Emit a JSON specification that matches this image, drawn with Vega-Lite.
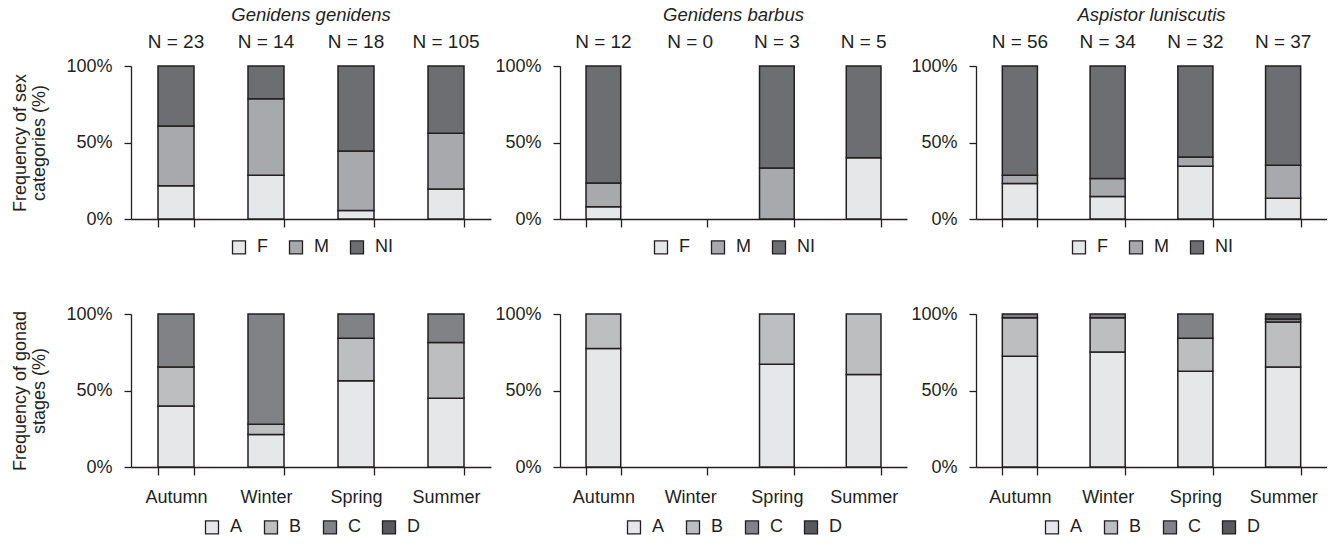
{
  "$schema": "https://vega.github.io/schema/vega-lite/v6.json",
  "padding": {"top": 5, "left": 11, "right": 0, "bottom": 0},
  "background": "white",
  "datasets": {
    "sex": [
      {"sp": "Genidens genidens", "season": "Autumn", "cat": "F", "pct": 21.7},
      {"sp": "Genidens genidens", "season": "Autumn", "cat": "M", "pct": 39.1},
      {"sp": "Genidens genidens", "season": "Autumn", "cat": "NI", "pct": 39.1},
      {"sp": "Genidens genidens", "season": "Winter", "cat": "F", "pct": 28.6},
      {"sp": "Genidens genidens", "season": "Winter", "cat": "M", "pct": 50.0},
      {"sp": "Genidens genidens", "season": "Winter", "cat": "NI", "pct": 21.4},
      {"sp": "Genidens genidens", "season": "Spring", "cat": "F", "pct": 5.6},
      {"sp": "Genidens genidens", "season": "Spring", "cat": "M", "pct": 38.9},
      {"sp": "Genidens genidens", "season": "Spring", "cat": "NI", "pct": 55.6},
      {"sp": "Genidens genidens", "season": "Summer", "cat": "F", "pct": 19.6},
      {"sp": "Genidens genidens", "season": "Summer", "cat": "M", "pct": 36.5},
      {"sp": "Genidens genidens", "season": "Summer", "cat": "NI", "pct": 43.9},
      {"sp": "Genidens barbus", "season": "Autumn", "cat": "F", "pct": 8.0},
      {"sp": "Genidens barbus", "season": "Autumn", "cat": "M", "pct": 15.5},
      {"sp": "Genidens barbus", "season": "Autumn", "cat": "NI", "pct": 76.5},
      {"sp": "Genidens barbus", "season": "Spring", "cat": "M", "pct": 33.3},
      {"sp": "Genidens barbus", "season": "Spring", "cat": "NI", "pct": 66.7},
      {"sp": "Genidens barbus", "season": "Summer", "cat": "F", "pct": 40.0},
      {"sp": "Genidens barbus", "season": "Summer", "cat": "NI", "pct": 60.0},
      {"sp": "Aspistor luniscutis", "season": "Autumn", "cat": "F", "pct": 23.2},
      {"sp": "Aspistor luniscutis", "season": "Autumn", "cat": "M", "pct": 5.4},
      {"sp": "Aspistor luniscutis", "season": "Autumn", "cat": "NI", "pct": 71.4},
      {"sp": "Aspistor luniscutis", "season": "Winter", "cat": "F", "pct": 14.7},
      {"sp": "Aspistor luniscutis", "season": "Winter", "cat": "M", "pct": 11.8},
      {"sp": "Aspistor luniscutis", "season": "Winter", "cat": "NI", "pct": 73.5},
      {"sp": "Aspistor luniscutis", "season": "Spring", "cat": "F", "pct": 34.4},
      {"sp": "Aspistor luniscutis", "season": "Spring", "cat": "M", "pct": 6.2},
      {"sp": "Aspistor luniscutis", "season": "Spring", "cat": "NI", "pct": 59.4},
      {"sp": "Aspistor luniscutis", "season": "Summer", "cat": "F", "pct": 13.5},
      {"sp": "Aspistor luniscutis", "season": "Summer", "cat": "M", "pct": 21.6},
      {"sp": "Aspistor luniscutis", "season": "Summer", "cat": "NI", "pct": 64.9}
    ],
    "gonad": [
      {"sp": "Genidens genidens", "season": "Autumn", "cat": "A", "pct": 39.8},
      {"sp": "Genidens genidens", "season": "Autumn", "cat": "B", "pct": 25.6},
      {"sp": "Genidens genidens", "season": "Autumn", "cat": "C", "pct": 34.6},
      {"sp": "Genidens genidens", "season": "Winter", "cat": "A", "pct": 21.3},
      {"sp": "Genidens genidens", "season": "Winter", "cat": "B", "pct": 6.7},
      {"sp": "Genidens genidens", "season": "Winter", "cat": "C", "pct": 72.0},
      {"sp": "Genidens genidens", "season": "Spring", "cat": "A", "pct": 56.3},
      {"sp": "Genidens genidens", "season": "Spring", "cat": "B", "pct": 27.8},
      {"sp": "Genidens genidens", "season": "Spring", "cat": "C", "pct": 15.9},
      {"sp": "Genidens genidens", "season": "Summer", "cat": "A", "pct": 45.0},
      {"sp": "Genidens genidens", "season": "Summer", "cat": "B", "pct": 36.3},
      {"sp": "Genidens genidens", "season": "Summer", "cat": "C", "pct": 18.7},
      {"sp": "Genidens barbus", "season": "Autumn", "cat": "A", "pct": 77.4},
      {"sp": "Genidens barbus", "season": "Autumn", "cat": "B", "pct": 22.6},
      {"sp": "Genidens barbus", "season": "Spring", "cat": "A", "pct": 67.2},
      {"sp": "Genidens barbus", "season": "Spring", "cat": "B", "pct": 32.8},
      {"sp": "Genidens barbus", "season": "Summer", "cat": "A", "pct": 60.4},
      {"sp": "Genidens barbus", "season": "Summer", "cat": "B", "pct": 39.6},
      {"sp": "Aspistor luniscutis", "season": "Autumn", "cat": "A", "pct": 72.4},
      {"sp": "Aspistor luniscutis", "season": "Autumn", "cat": "B", "pct": 25.2},
      {"sp": "Aspistor luniscutis", "season": "Autumn", "cat": "C", "pct": 2.4},
      {"sp": "Aspistor luniscutis", "season": "Winter", "cat": "A", "pct": 75.2},
      {"sp": "Aspistor luniscutis", "season": "Winter", "cat": "B", "pct": 22.4},
      {"sp": "Aspistor luniscutis", "season": "Winter", "cat": "C", "pct": 2.4},
      {"sp": "Aspistor luniscutis", "season": "Spring", "cat": "A", "pct": 62.6},
      {"sp": "Aspistor luniscutis", "season": "Spring", "cat": "B", "pct": 21.5},
      {"sp": "Aspistor luniscutis", "season": "Spring", "cat": "C", "pct": 15.9},
      {"sp": "Aspistor luniscutis", "season": "Summer", "cat": "A", "pct": 65.4},
      {"sp": "Aspistor luniscutis", "season": "Summer", "cat": "B", "pct": 29.4},
      {"sp": "Aspistor luniscutis", "season": "Summer", "cat": "C", "pct": 1.9},
      {"sp": "Aspistor luniscutis", "season": "Summer", "cat": "D", "pct": 3.3}
    ],
    "n": [
      {"sp": "Genidens genidens", "season": "Autumn", "label": "N = 23", "y": 1},
      {"sp": "Genidens genidens", "season": "Winter", "label": "N = 14", "y": 1},
      {"sp": "Genidens genidens", "season": "Spring", "label": "N = 18", "y": 1},
      {"sp": "Genidens genidens", "season": "Summer", "label": "N = 105", "y": 1},
      {"sp": "Genidens barbus", "season": "Autumn", "label": "N = 12", "y": 1},
      {"sp": "Genidens barbus", "season": "Winter", "label": "N = 0", "y": 1},
      {"sp": "Genidens barbus", "season": "Spring", "label": "N = 3", "y": 1},
      {"sp": "Genidens barbus", "season": "Summer", "label": "N = 5", "y": 1},
      {"sp": "Aspistor luniscutis", "season": "Autumn", "label": "N = 56", "y": 1},
      {"sp": "Aspistor luniscutis", "season": "Winter", "label": "N = 34", "y": 1},
      {"sp": "Aspistor luniscutis", "season": "Spring", "label": "N = 32", "y": 1},
      {"sp": "Aspistor luniscutis", "season": "Summer", "label": "N = 37", "y": 1}
    ]
  },
  "vconcat": [
    {
      "hconcat": [
        {
          "width": 360, "height": 153,
          "title": {"text": "Genidens genidens"},
          "layer": [
            {
              "data": {"name": "sex"},
              "transform": [{"filter": "datum.sp == 'Genidens genidens'"}],
              "mark": {"type": "bar", "stroke": "#231f20", "strokeWidth": 1.5},
              "encoding": {
                "x": {"field": "season", "type": "nominal", "scale": {"domain": ["Autumn", "Winter", "Spring", "Summer"], "paddingInner": 0.6, "paddingOuter": 0.3}, "axis": {"labels": false, "title": null}},
                "y": {"field": "pct", "type": "quantitative", "stack": "normalize", "scale": {"domain": [0, 1]}, "axis": {"values": [0, 0.5, 1], "format": ".0%", "title": ["Frequency of sex", "categories (%)"]}},
                "color": {"field": "cat", "type": "nominal", "scale": {"domain": ["F", "M", "NI"], "range": ["#e6e7e8", "#a7a9ac", "#6d6e71"]}, "legend": {}},
                "order": {"field": "cat", "type": "ordinal", "sort": "ascending"}
              }
            },
            {
              "data": {"name": "n"},
              "transform": [{"filter": "datum.sp == 'Genidens genidens'"}],
              "mark": {"type": "text", "dy": -24, "fontSize": 19, "color": "#231f20"},
              "encoding": {
                "x": {"field": "season", "type": "nominal"},
                "y": {"field": "y", "type": "quantitative"},
                "text": {"field": "label"}
              }
            }
          ]
        },
        {
          "width": 347, "height": 153,
          "title": {"text": "Genidens barbus"},
          "layer": [
            {
              "data": {"name": "sex"},
              "transform": [{"filter": "datum.sp == 'Genidens barbus'"}],
              "mark": {"type": "bar", "stroke": "#231f20", "strokeWidth": 1.5},
              "encoding": {
                "x": {"field": "season", "type": "nominal", "scale": {"domain": ["Autumn", "Winter", "Spring", "Summer"], "paddingInner": 0.6, "paddingOuter": 0.3}, "axis": {"labels": false, "title": null}},
                "y": {"field": "pct", "type": "quantitative", "stack": "normalize", "scale": {"domain": [0, 1]}, "axis": {"values": [0, 0.5, 1], "format": ".0%", "title": null}},
                "color": {"field": "cat", "type": "nominal", "scale": {"domain": ["F", "M", "NI"], "range": ["#e6e7e8", "#a7a9ac", "#6d6e71"]}, "legend": {}},
                "order": {"field": "cat", "type": "ordinal", "sort": "ascending"}
              }
            },
            {
              "data": {"name": "n"},
              "transform": [{"filter": "datum.sp == 'Genidens barbus'"}],
              "mark": {"type": "text", "dy": -24, "fontSize": 19, "color": "#231f20"},
              "encoding": {
                "x": {"field": "season", "type": "nominal"},
                "y": {"field": "y", "type": "quantitative"},
                "text": {"field": "label"}
              }
            }
          ]
        },
        {
          "width": 351, "height": 153,
          "title": {"text": "Aspistor luniscutis"},
          "layer": [
            {
              "data": {"name": "sex"},
              "transform": [{"filter": "datum.sp == 'Aspistor luniscutis'"}],
              "mark": {"type": "bar", "stroke": "#231f20", "strokeWidth": 1.5},
              "encoding": {
                "x": {"field": "season", "type": "nominal", "scale": {"domain": ["Autumn", "Winter", "Spring", "Summer"], "paddingInner": 0.6, "paddingOuter": 0.3}, "axis": {"labels": false, "title": null}},
                "y": {"field": "pct", "type": "quantitative", "stack": "normalize", "scale": {"domain": [0, 1]}, "axis": {"values": [0, 0.5, 1], "format": ".0%", "title": null}},
                "color": {"field": "cat", "type": "nominal", "scale": {"domain": ["F", "M", "NI"], "range": ["#e6e7e8", "#a7a9ac", "#6d6e71"]}, "legend": {}},
                "order": {"field": "cat", "type": "ordinal", "sort": "ascending"}
              }
            },
            {
              "data": {"name": "n"},
              "transform": [{"filter": "datum.sp == 'Aspistor luniscutis'"}],
              "mark": {"type": "text", "dy": -24, "fontSize": 19, "color": "#231f20"},
              "encoding": {
                "x": {"field": "season", "type": "nominal"},
                "y": {"field": "y", "type": "quantitative"},
                "text": {"field": "label"}
              }
            }
          ]
        }
      ],
      "spacing": 3,
      "resolve": {"scale": {"color": "independent"}}
    },
    {
      "hconcat": [
        {
          "width": 360, "height": 153,
          "data": {"name": "gonad"},
          "transform": [{"filter": "datum.sp == 'Genidens genidens'"}],
          "mark": {"type": "bar", "stroke": "#231f20", "strokeWidth": 1.5},
          "encoding": {
            "x": {"field": "season", "type": "nominal", "scale": {"domain": ["Autumn", "Winter", "Spring", "Summer"], "paddingInner": 0.6, "paddingOuter": 0.3}, "axis": {"title": null}},
            "y": {"field": "pct", "type": "quantitative", "stack": "normalize", "scale": {"domain": [0, 1]}, "axis": {"values": [0, 0.5, 1], "format": ".0%", "title": ["Frequency of gonad", "stages (%)"]}},
            "color": {"field": "cat", "type": "nominal", "scale": {"domain": ["A", "B", "C", "D"], "range": ["#e6e7e8", "#bcbec0", "#808285", "#58595b"]}, "legend": {"offset": 12}},
            "order": {"field": "cat", "type": "ordinal", "sort": "ascending"}
          }
        },
        {
          "width": 347, "height": 153,
          "data": {"name": "gonad"},
          "transform": [{"filter": "datum.sp == 'Genidens barbus'"}],
          "mark": {"type": "bar", "stroke": "#231f20", "strokeWidth": 1.5},
          "encoding": {
            "x": {"field": "season", "type": "nominal", "scale": {"domain": ["Autumn", "Winter", "Spring", "Summer"], "paddingInner": 0.6, "paddingOuter": 0.3}, "axis": {"title": null}},
            "y": {"field": "pct", "type": "quantitative", "stack": "normalize", "scale": {"domain": [0, 1]}, "axis": {"values": [0, 0.5, 1], "format": ".0%", "title": null}},
            "color": {"field": "cat", "type": "nominal", "scale": {"domain": ["A", "B", "C", "D"], "range": ["#e6e7e8", "#bcbec0", "#808285", "#58595b"]}, "legend": {"offset": 12}},
            "order": {"field": "cat", "type": "ordinal", "sort": "ascending"}
          }
        },
        {
          "width": 351, "height": 153,
          "data": {"name": "gonad"},
          "transform": [{"filter": "datum.sp == 'Aspistor luniscutis'"}],
          "mark": {"type": "bar", "stroke": "#231f20", "strokeWidth": 1.5},
          "encoding": {
            "x": {"field": "season", "type": "nominal", "scale": {"domain": ["Autumn", "Winter", "Spring", "Summer"], "paddingInner": 0.6, "paddingOuter": 0.3}, "axis": {"title": null}},
            "y": {"field": "pct", "type": "quantitative", "stack": "normalize", "scale": {"domain": [0, 1]}, "axis": {"values": [0, 0.5, 1], "format": ".0%", "title": null}},
            "color": {"field": "cat", "type": "nominal", "scale": {"domain": ["A", "B", "C", "D"], "range": ["#e6e7e8", "#bcbec0", "#808285", "#58595b"]}, "legend": {"offset": 12}},
            "order": {"field": "cat", "type": "ordinal", "sort": "ascending"}
          }
        }
      ],
      "spacing": 3,
      "resolve": {"scale": {"color": "independent"}}
    }
  ],
  "spacing": 48,
  "config": {
    "font": "Liberation Sans",
    "view": {"stroke": null},
    "title": {"fontSize": 18.5, "fontStyle": "italic", "fontWeight": "normal", "color": "#231f20", "offset": 9},
    "axis": {
      "grid": false,
      "domainColor": "#231f20",
      "domainWidth": 1.3,
      "tickColor": "#231f20",
      "tickWidth": 1.3,
      "tickSize": 7,
      "labelFontSize": 18,
      "labelColor": "#231f20",
      "labelPadding": 12,
      "titleFontSize": 18,
      "titleLineHeight": 19,
      "titleFontWeight": "normal",
      "titleColor": "#231f20",
      "titlePadding": 17
    },
    "axisX": {"tickBand": "extent", "labelAngle": 0, "labelPadding": 13, "tickSize": 8},
    "legend": {
      "orient": "bottom",
      "direction": "horizontal",
      "title": null,
      "symbolType": "square",
      "symbolSize": 169,
      "symbolStrokeColor": "#231f20",
      "symbolStrokeWidth": 1.3,
      "symbolOpacity": 1,
      "labelFontSize": 18,
      "labelColor": "#231f20",
      "labelOffset": 9,
      "columnPadding": 18,
      "offset": 10,
      "layout": {"bottom": {"anchor": "middle"}}
    }
  }
}
